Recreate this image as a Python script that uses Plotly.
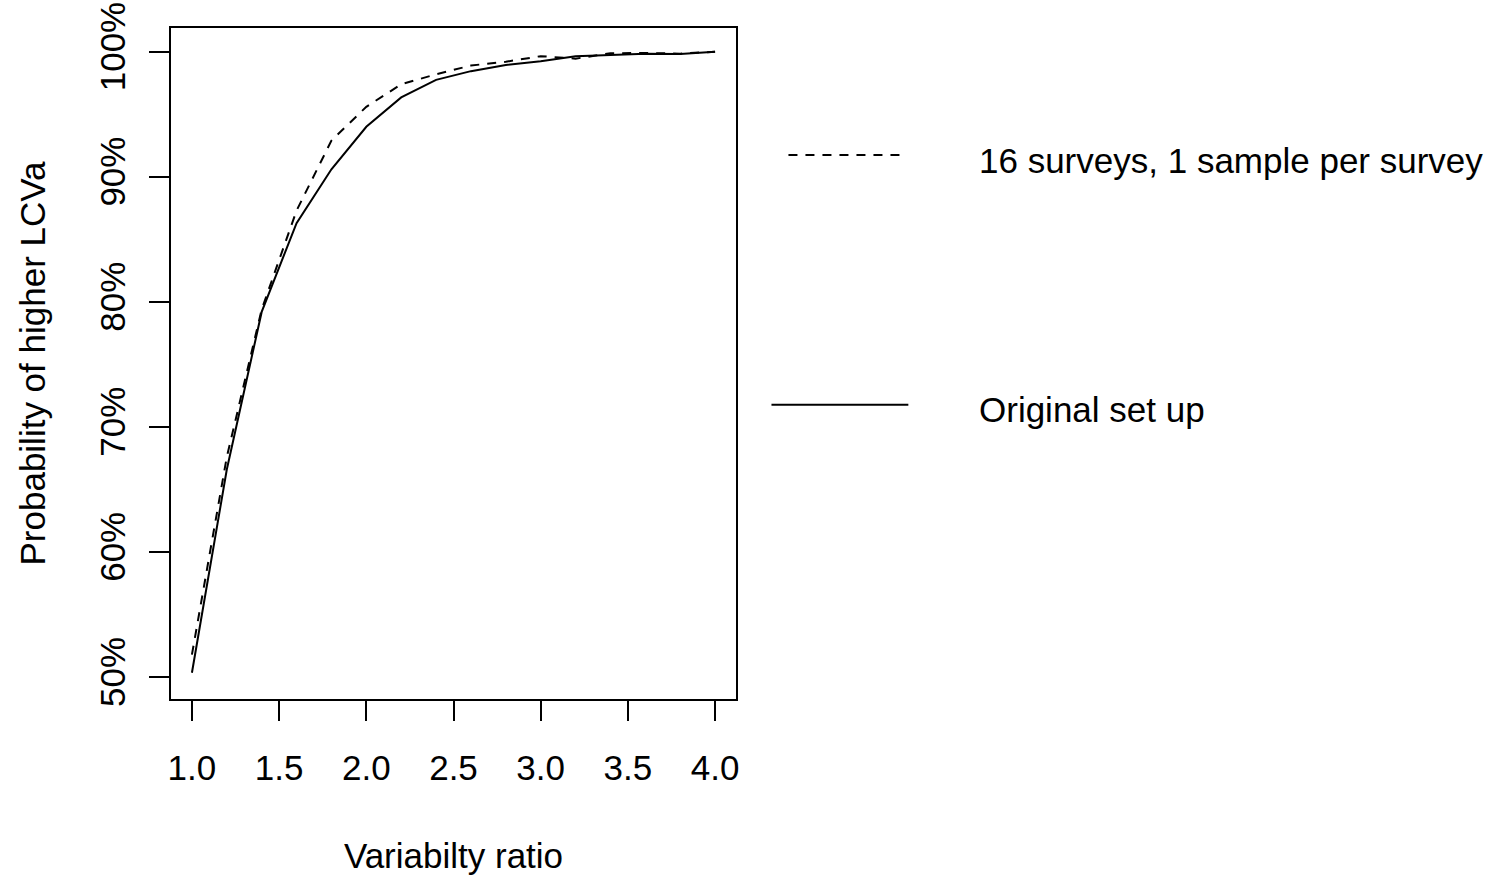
import plotly.graph_objects as go

# Data
variability_ratio = [1.0, 1.2, 1.4, 1.6, 1.8, 2.0, 2.2, 2.4, 2.6, 2.8, 3.0, 3.2, 3.4, 3.6, 3.8, 4.0]
prob_original = [50.35, 66.6, 79.2, 86.3, 90.6, 94.0, 96.35, 97.75, 98.45, 98.95, 99.25, 99.65, 99.75, 99.85, 99.82, 100.0]
prob_16_surveys = [51.8, 67.6, 79.4, 87.3, 92.9, 95.6, 97.4, 98.2, 98.9, 99.2, 99.65, 99.45, 99.88, 99.9, 99.85, 100.0]

x_ticks = [1.0, 1.5, 2.0, 2.5, 3.0, 3.5, 4.0]
y_ticks = [50, 60, 70, 80, 90, 100]
y_tick_labels = ["50%", "60%", "70%", "80%", "90%", "100%"]

legend_labels = ["16 surveys, 1 sample per survey", "Original set up"]

FONT = "Liberation Sans, Arial, sans-serif"
FS = 35

fig = go.Figure()
fig.add_trace(go.Scatter(x=variability_ratio, y=prob_16_surveys, mode="lines",
                         line=dict(color="black", width=2, dash="9px,8px"),
                         name=legend_labels[0], showlegend=False))
fig.add_trace(go.Scatter(x=variability_ratio, y=prob_original, mode="lines",
                         line=dict(color="black", width=2),
                         name=legend_labels[1], showlegend=False))

L, R, T, B = 171, 736.5, 28, 699.5
W, H = 1490, 875

def px_x(p):
    return (p - L) / (R - L)

def px_y(p):
    return (B - p) / (B - T)

# Legend drawn manually (R-style)
fig.add_shape(type="line", xref="paper", yref="paper",
              x0=px_x(789), x1=px_x(906), y0=px_y(155), y1=px_y(155),
              line=dict(color="black", width=2, dash="9px,8px"))
fig.add_shape(type="line", xref="paper", yref="paper",
              x0=px_x(772), x1=px_x(909), y0=px_y(405), y1=px_y(405),
              line=dict(color="black", width=2))
fig.add_annotation(text=legend_labels[0], xref="paper", yref="paper",
                   x=px_x(978), y=px_y(160.5), xanchor="left", yanchor="middle",
                   showarrow=False, font=dict(family=FONT, size=FS, color="black"))
fig.add_annotation(text=legend_labels[1], xref="paper", yref="paper",
                   x=px_x(978), y=px_y(410), xanchor="left", yanchor="middle",
                   showarrow=False, font=dict(family=FONT, size=FS, color="black"))

fig.update_layout(
    width=W, height=H, autosize=False,
    margin=dict(l=L, r=W - R, t=T, b=H - B, pad=0, autoexpand=False),
    paper_bgcolor="white", plot_bgcolor="white",
    font=dict(family=FONT, size=FS, color="black"),
    xaxis=dict(range=[0.88, 4.12], tickvals=x_ticks, ticktext=[f"{v:.1f}" for v in x_ticks],
               automargin=False,
               showgrid=False, zeroline=False, showline=True, mirror=True,
               linecolor="black", linewidth=2, ticks="outside", ticklen=20,
               tickwidth=2, tickcolor="black", ticklabelstandoff=17,
               title=dict(text="Variabilty ratio", standoff=58,
                          font=dict(family=FONT, size=FS))),
    yaxis=dict(range=[48.25, 101.9], tickvals=y_ticks, ticktext=y_tick_labels,
               tickangle=-90, automargin=False,
               showgrid=False, zeroline=False, showline=True, mirror=True,
               linecolor="black", linewidth=2, ticks="outside", ticklen=20,
               tickwidth=2, tickcolor="black", ticklabelstandoff=10,
               title=dict(text="Probability of higher LCVa", standoff=37,
                          font=dict(family=FONT, size=FS))),
)

fig.write_html("out.html")
